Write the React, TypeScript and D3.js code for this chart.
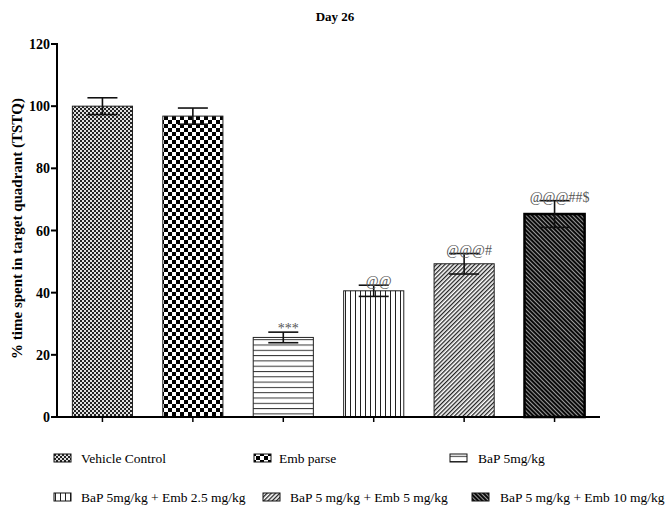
import React from "react";
import * as d3 from "d3";

const categories = [
  "Vehicle Control",
  "Emb parse",
  "BaP 5mg/kg",
  "BaP 5mg/kg + Emb 2.5 mg/kg",
  "BaP 5 mg/kg + Emb 5 mg/kg",
  "BaP 5 mg/kg + Emb 10 mg/kg",
];
const means = [100, 96.8, 25.6, 40.6, 49.3, 65.3];
const errors = [2.7, 2.6, 1.7, 1.8, 3.3, 4.3];
const annotations = ["", "", "***", "@@", "@@@#", "@@@##$"];
const yTicks = [0, 20, 40, 60, 80, 100, 120];
const patternIds = ["p-fine", "p-checker", "p-hlines", "p-vlines", "p-diag", "p-diag2"];

const W = 670;
const H = 506;
const left = 57;
const right = 600;
const top = 44;
const bottom = 417;
const font = "'Liberation Serif', 'Times New Roman', serif";

export default function App() {
  const x = d3
    .scaleBand<string>()
    .domain(categories)
    .range([left, right])
    .paddingInner(0.335)
    .paddingOuter(0.17);
  const y = d3.scaleLinear().domain([0, 120]).range([bottom, top]);
  const bw = x.bandwidth();

  const legendItems = [
    { sx: 54, tx: 81, ty: 463 },
    { sx: 254, tx: 279, ty: 463 },
    { sx: 450, tx: 478, ty: 463 },
    { sx: 54, tx: 81, ty: 502 },
    { sx: 263, tx: 290, ty: 502 },
    { sx: 472, tx: 500, ty: 502 },
  ];

  return (
    <svg
      width={W}
      height={H}
      style={{ position: "absolute", left: 0, top: 0, background: "#fff" }}
      fontFamily={font}
    >
      <defs>
        <pattern id="p-fine" width={4} height={4} patternUnits="userSpaceOnUse">
          <rect width={4} height={4} fill="#e0e0e0" />
          <rect x={0} y={0} width={2} height={2} fill="#222" />
          <rect x={2} y={2} width={2} height={2} fill="#222" />
        </pattern>
        <pattern id="p-checker" width={8} height={8} patternUnits="userSpaceOnUse">
          <rect width={8} height={8} fill="#fff" />
          <rect x={0} y={0} width={4} height={4} fill="#000" />
          <rect x={4} y={4} width={4} height={4} fill="#000" />
        </pattern>
        <pattern id="p-hlines" width={6} height={5.3} patternUnits="userSpaceOnUse">
          <rect width={6} height={5.3} fill="#fff" />
          <rect x={0} y={0} width={6} height={1} fill="#333" />
        </pattern>
        <pattern id="p-vlines" width={5} height={6} patternUnits="userSpaceOnUse">
          <rect width={5} height={6} fill="#fff" />
          <rect x={0} y={0} width={1} height={6} fill="#222" />
        </pattern>
        <pattern
          id="p-diag"
          width={3}
          height={6}
          patternUnits="userSpaceOnUse"
          patternTransform="rotate(45)"
        >
          <rect width={3} height={6} fill="#fff" />
          <rect x={0} y={0} width={1.3} height={6} fill="#222" />
        </pattern>
        <pattern
          id="p-diag2"
          width={3}
          height={6}
          patternUnits="userSpaceOnUse"
          patternTransform="rotate(-45)"
        >
          <rect width={3} height={6} fill="#0a0a0a" />
          <rect x={0} y={0} width={0.9} height={6} fill="#aaa" />
        </pattern>
      </defs>

      <text x={335} y={21} textAnchor="middle" fontWeight="bold" fontSize={13}>
        Day 26
      </text>

      {categories.map((c, i) => {
        const x0 = x(c)!;
        const last = i === categories.length - 1;
        return (
          <rect
            key={c}
            x={x0}
            y={y(means[i])}
            width={bw}
            height={y(0) - y(means[i])}
            fill={`url(#${patternIds[i]})`}
            stroke={last ? "#000" : "#222"}
            strokeWidth={last ? 2.5 : 1}
          />
        );
      })}

      {categories.map((c, i) => {
        const cx = x(c)! + bw / 2;
        const yt = y(means[i] + errors[i]);
        const yb = y(means[i] - errors[i]);
        return (
          <g key={c} stroke="#111" strokeWidth={1.6}>
            <line x1={cx} x2={cx} y1={yt} y2={yb} />
            <line x1={cx - 15} x2={cx + 15} y1={yt} y2={yt} />
            <line x1={cx - 15} x2={cx + 15} y1={yb} y2={yb} />
          </g>
        );
      })}

      {categories.map((c, i) =>
        annotations[i] ? (
          <text
            key={c}
            x={x(c)! + bw / 2 + 5}
            y={y(means[i] + errors[i]) + 1}
            textAnchor="middle"
            fontSize={14}
            fill="#555"
          >
            {annotations[i]}
          </text>
        ) : null
      )}

      <line x1={left} x2={left} y1={top - 1} y2={bottom} stroke="#000" strokeWidth={2} />
      <line x1={left - 1} x2={right} y1={bottom} y2={bottom} stroke="#000" strokeWidth={2} />
      {yTicks.map((t) => (
        <g key={t}>
          <line x1={left - 6} x2={left} y1={y(t)} y2={y(t)} stroke="#000" strokeWidth={2} />
          <text
            x={left - 7}
            y={y(t) + 5}
            textAnchor="end"
            fontWeight="bold"
            fontSize={14}
          >
            {t}
          </text>
        </g>
      ))}
      {categories.map((c) => (
        <line
          key={c}
          x1={x(c)! + bw / 2}
          x2={x(c)! + bw / 2}
          y1={bottom}
          y2={bottom + 5}
          stroke="#000"
          strokeWidth={1.5}
        />
      ))}

      <text
        transform={`translate(22, ${(top + bottom) / 2 - 2}) rotate(-90)`}
        textAnchor="middle"
        fontWeight="bold"
        fontSize={15}
      >
        % time spent in target quadrant (TSTQ)
      </text>

      {categories.map((c, i) => {
        const it = legendItems[i];
        return (
          <g key={c}>
            <rect
              x={it.sx}
              y={it.ty - 9}
              width={17}
              height={8}
              fill={`url(#${patternIds[i]})`}
              stroke="#111"
              strokeWidth={1}
            />
            <text x={it.tx} y={it.ty} fontSize={13.5}>
              {c}
            </text>
          </g>
        );
      })}
    </svg>
  );
}
